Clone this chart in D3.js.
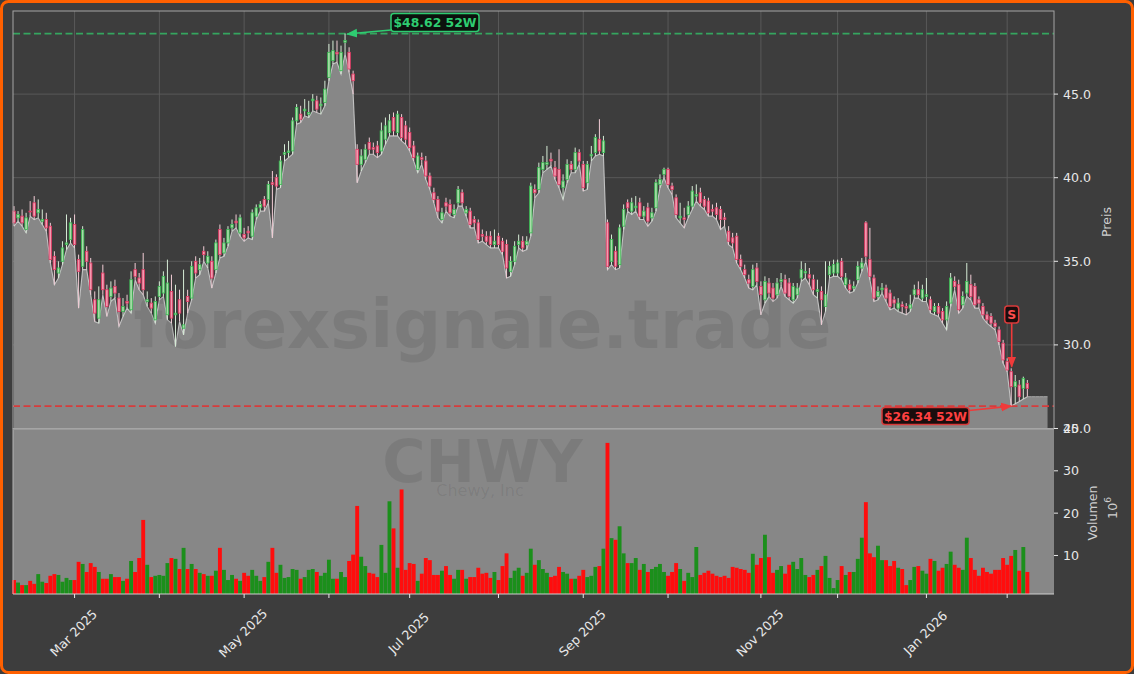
<!DOCTYPE html>
<html><head><meta charset="utf-8">
<script src="https://cdn.jsdelivr.net/npm/d3@7"></script>
<style>
html,body{margin:0;padding:0;background:#3d3d3d;}
svg{display:block;font-family:"DejaVu Sans",sans-serif;}
</style></head><body>
<svg id="chart" width="1134" height="674"></svg>
<script>
// ---------------- data ----------------
const startDate = "2025-02-07";
const holidays = ["2025-02-17","2025-04-18","2025-05-26","2025-06-19","2025-07-04","2025-09-01","2025-11-27","2025-12-25","2026-01-01","2026-01-19"];
const opens = [38.0,37.6,37.7,36.9,38.0,38.5,37.9,37.4,37.5,37.1,
35.3,34.3,35.0,36.0,36.3,37.2,35.1,34.7,35.6,34.9,
32.7,31.6,34.3,33.3,32.9,33.5,32.8,32.0,32.6,32.1,
34.5,34.0,34.5,32.6,32.5,31.5,32.9,33.1,31.8,33.2,
31.8,32.7,31.0,32.9,32.8,35.0,34.5,35.6,34.9,35.0,
34.5,36.9,35.5,36.1,37.0,37.4,36.7,36.6,36.8,36.5,
37.7,38.2,38.7,38.7,39.7,40.0,39.6,41.4,41.5,41.6,
43.4,43.8,44.0,43.8,44.6,44.6,44.3,44.5,46.0,47.0,
47.5,46.4,48.1,47.5,46.2,41.7,40.8,41.1,42.1,41.8,
41.9,41.6,42.3,42.7,43.6,42.7,43.6,43.1,42.7,41.9,
40.5,41.2,41.0,40.1,39.1,38.7,37.5,38.5,38.4,37.8,
38.5,39.1,37.9,38.0,37.5,37.3,36.6,36.5,36.5,36.0,
36.5,36.2,36.0,34.4,35.0,36.0,36.2,36.0,36.7,39.3,
39.3,40.5,40.8,41.1,40.6,40.5,39.4,39.9,40.8,40.5,
41.5,40.8,39.7,41.3,41.5,42.3,41.5,37.3,35.0,35.6,
34.8,37.1,38.5,38.0,38.2,38.5,37.7,38.2,37.6,38.2,
39.6,40.2,40.5,39.5,38.8,37.6,37.6,37.8,38.3,38.9,
39.1,38.7,38.6,38.1,38.2,38.1,37.6,36.8,36.4,36.5,
35.1,34.5,33.9,33.5,34.6,33.5,32.7,33.7,33.4,33.0,
33.8,33.9,33.7,32.7,33.0,34.0,34.3,34.2,33.9,33.2,
33.2,32.3,34.2,34.3,34.3,35.0,33.6,33.6,33.4,33.9,
34.6,37.3,35.1,34.0,32.9,33.3,33.4,33.1,32.7,32.2,
32.4,32.3,32.2,33.0,33.3,32.8,32.9,32.7,32.0,32.3,
32.0,31.5,32.5,33.8,33.6,32.4,33.1,33.6,33.5,32.7,
32.3,31.8,31.7,31.3,30.9,30.1,29.0,28.4,27.5,27.6,
27.4,27.7];
const highs = [38.3,38.0,38.1,37.9,38.6,38.9,38.7,38.1,37.9,37.3,
35.6,35.0,36.2,37.8,37.6,37.8,35.4,37.1,35.9,35.2,
33.2,33.5,34.8,33.6,33.8,33.9,33.1,32.8,33.0,34.4,
34.9,34.3,35.5,33.2,32.8,32.9,33.8,34.4,35.1,34.2,
33.6,33.3,34.5,33.3,35.0,35.3,35.2,35.9,35.6,35.3,
36.3,37.2,36.4,37.1,37.5,37.8,37.8,37.0,37.1,38.1,
38.4,38.6,38.9,39.8,40.4,40.2,41.3,42.0,42.2,43.6,
44.4,44.3,44.7,44.6,45.0,44.9,44.8,45.8,48.0,48.2,
48.2,47.9,48.62,47.8,46.4,42.0,41.7,42.0,42.4,42.1,
42.2,43.3,43.6,43.8,43.9,44.0,43.8,43.4,43.0,42.2,
41.5,41.5,41.3,40.3,39.4,38.9,38.2,38.8,38.7,38.4,
39.5,39.3,38.3,38.2,37.7,37.5,36.9,36.8,36.8,36.9,
36.7,36.4,36.3,35.3,36.2,36.6,36.5,36.5,39.7,39.6,
40.9,41.3,41.9,41.5,41.0,41.7,40.2,41.1,41.0,41.8,
41.7,41.0,41.0,41.9,42.6,43.5,42.5,37.5,36.6,35.9,
37.2,38.4,38.7,38.8,38.9,38.8,38.3,38.5,38.2,39.9,
40.2,40.6,40.6,39.7,39.0,38.5,38.2,38.6,39.5,39.6,
39.4,38.9,38.8,38.4,38.5,38.3,37.9,37.1,36.7,36.7,
35.4,34.8,34.2,34.8,34.9,33.8,34.1,34.0,33.7,34.0,
34.3,34.2,34.0,33.7,33.7,35.0,34.9,34.6,34.2,33.9,
33.5,35.0,35.0,35.1,35.1,35.2,34.3,33.9,33.8,35.0,
35.2,37.4,37.0,34.2,33.5,33.7,33.6,33.3,32.9,32.8,
32.6,32.5,33.0,33.6,33.8,33.6,34.0,32.9,32.5,32.5,
32.2,32.6,34.3,34.1,33.9,33.2,34.9,34.2,33.7,32.9,
32.5,32.0,31.9,31.5,31.1,30.3,29.2,28.6,28.2,27.9,
28.1,27.9];
const lows = [37.1,37.4,37.1,36.7,37.7,37.5,37.6,37.2,36.8,34.9,
33.6,34.0,34.8,35.7,36.1,35.8,32.2,34.5,34.5,33.0,
31.4,31.3,33.0,31.7,32.6,32.8,31.1,31.7,32.2,31.9,
33.9,33.3,33.0,32.3,31.9,31.3,32.7,32.9,31.5,31.3,
29.9,31.4,30.6,31.9,32.7,34.0,34.2,35.0,34.6,33.4,
34.3,35.2,35.3,35.9,36.8,37.0,36.5,36.2,36.4,36.3,
37.5,38.0,38.0,38.5,36.4,39.3,39.4,41.0,41.2,41.4,
43.2,43.3,43.7,43.6,44.0,43.9,43.8,44.3,45.8,46.8,
46.9,46.2,47.4,46.3,45.0,39.7,40.4,40.9,41.4,41.4,
41.2,41.4,42.0,42.5,42.5,42.5,42.2,42.0,41.6,41.0,
40.3,40.8,39.9,39.3,38.5,37.6,37.3,38.0,37.7,37.6,
38.3,38.3,37.7,37.0,37.0,36.1,36.2,36.0,35.8,35.8,
35.8,35.4,34.0,34.1,34.8,35.8,35.6,35.7,36.5,38.8,
39.1,40.3,40.5,40.7,39.9,39.4,38.7,39.7,40.3,40.3,
40.8,39.2,39.3,41.0,41.3,41.4,41.3,34.5,34.8,34.5,
34.6,36.9,38.0,37.8,38.0,37.5,37.5,37.1,37.4,38.0,
39.4,40.0,39.4,39.0,37.6,37.3,37.0,37.6,38.1,38.6,
38.3,38.1,37.7,37.7,37.5,36.9,37.1,36.0,35.8,34.9,
34.5,34.0,33.4,33.3,33.6,31.8,32.5,32.9,32.6,32.8,
33.5,32.9,32.7,32.5,32.8,33.8,34.0,33.6,33.0,32.8,
31.2,32.0,34.0,34.1,34.1,33.9,33.4,33.1,33.2,33.7,
34.4,35.0,33.9,32.6,32.7,33.1,32.6,32.1,32.2,32.0,
31.9,31.8,32.0,32.8,32.8,32.6,32.6,31.9,31.8,31.7,
31.3,30.9,32.3,33.3,31.9,32.2,32.9,32.7,32.2,32.2,
31.6,31.3,31.1,30.9,30.0,28.9,28.4,26.34,26.48,26.62,
26.76,26.9];
const closes = [37.3,37.8,37.3,37.6,37.95,37.7,38.1,37.5,37.0,35.1,
34.5,34.6,35.8,36.1,37.3,36.0,34.4,36.9,35.0,33.3,
31.9,32.7,33.3,32.3,33.4,33.1,32.0,32.3,32.5,33.9,
34.1,33.7,33.3,32.7,32.2,32.6,33.5,34.1,33.7,31.6,
31.9,31.9,31.2,32.6,34.7,34.3,34.8,35.4,35.3,34.0,
36.1,35.4,36.1,36.9,37.2,37.3,37.6,36.4,36.7,37.9,
38.2,38.4,38.3,39.6,39.6,39.5,41.0,41.5,41.6,43.4,
44.2,43.5,44.1,43.9,44.7,44.1,44.4,45.3,47.5,47.6,
47.4,47.5,48.2,46.5,45.8,40.8,41.3,41.7,41.7,41.7,
41.5,42.8,43.1,43.4,42.8,43.8,42.4,42.3,41.8,41.2,
41.3,41.1,40.1,39.5,38.7,38.0,37.9,38.3,37.9,38.1,
39.3,38.5,38.1,37.2,37.3,36.3,36.5,36.2,36.0,36.2,
36.0,35.6,34.6,35.0,35.9,36.2,35.8,36.2,39.5,39.1,
40.6,40.9,40.9,41.0,40.1,39.6,39.8,40.8,40.5,41.5,
41.0,39.4,40.8,41.4,42.4,41.6,42.2,34.7,36.3,34.7,
37.0,38.1,38.2,38.5,38.3,37.7,38.0,37.4,37.9,39.7,
39.9,40.5,39.6,39.3,37.8,37.7,37.5,38.3,39.2,39.0,
38.5,38.3,37.9,38.0,37.8,37.5,37.5,36.2,36.1,35.1,
34.7,34.2,33.7,34.5,33.8,33.0,33.8,33.1,32.8,33.7,
33.9,33.1,32.9,33.5,33.4,34.5,34.4,34.0,33.3,33.3,
32.7,33.0,34.7,34.8,34.9,34.1,34.0,33.3,33.5,34.7,
34.9,35.3,34.1,32.8,33.2,33.4,32.8,32.3,32.5,32.5,
32.3,32.2,32.4,33.3,33.0,33.3,33.0,32.1,32.3,31.9,
31.5,32.3,34.0,33.5,32.1,32.9,33.8,32.9,32.4,32.5,
31.8,31.5,31.3,31.1,30.2,29.1,28.5,27.5,27.8,26.9,
28.0,27.4];
const volumes = [4.2,3.6,3.0,3.0,4.0,3.3,5.6,3.8,3.5,5.2,
5.6,5.4,3.8,4.7,4.2,4.2,8.5,8.0,6.1,8.2,
7.3,6.1,4.5,4.5,5.6,4.9,4.9,4.0,4.5,8.7,
6.1,9.4,18.4,7.8,4.9,5.2,5.4,5.2,8.2,9.4,
9.2,6.8,11.8,6.8,8.0,6.8,5.9,5.6,5.2,5.2,
6.4,11.8,6.6,4.2,5.4,4.5,4.0,5.9,5.2,6.6,
5.2,4.0,4.9,8.5,11.8,5.9,7.8,4.7,4.9,6.8,
6.6,4.5,4.9,6.6,6.8,6.1,5.2,5.9,9.0,4.5,
4.5,6.1,4.9,8.7,10.2,21.7,9.7,7.5,5.9,5.7,
4.9,12.5,5.9,22.8,16.4,7.1,25.6,6.6,8.2,8.0,
4.0,5.7,9.4,8.9,5.4,5.4,6.4,7.5,5.4,4.5,
6.6,6.6,4.5,4.9,4.9,7.1,5.7,5.9,4.7,6.1,
4.2,7.5,10.5,4.7,6.4,7.1,5.2,5.9,11.6,7.8,
8.9,6.8,5.9,4.9,5.2,7.3,6.1,5.7,4.5,4.5,
5.2,6.6,4.9,5.2,7.3,7.5,11.6,36.6,14.1,13.7,
16.9,10.5,8.2,8.2,9.4,6.6,8.0,6.1,6.8,7.3,
8.0,6.1,5.2,6.1,8.2,6.8,4.0,5.9,4.9,12.0,
5.4,5.9,6.4,5.7,5.2,4.9,5.2,4.7,7.3,7.1,
6.8,6.6,5.9,10.4,7.8,9.4,14.9,9.6,5.9,6.6,
7.5,5.7,7.8,8.5,6.8,9.4,5.4,4.9,5.4,6.6,
7.5,9.9,4.7,2.3,4.2,7.5,5.4,6.1,6.1,9.2,
14.2,22.6,10.5,9.6,12.3,8.9,8.9,7.5,8.7,7.1,
6.8,3.0,4.2,7.3,7.5,6.4,5.7,9.2,8.7,6.4,
7.1,8.0,10.9,7.8,7.1,6.6,14.2,9.4,6.6,5.2,
7.1,6.1,5.7,6.6,6.6,9.4,7.8,9.9,11.3,6.4,
12.0,6.1];
const padLows = [26.9,26.9,26.9,26.9,26.9];
const priceTicks = [25,30,35,40,45];
const volTicks = [10,20,30,40];
const high52 = {value:48.62, label:"$48.62 52W"};
const low52 = {value:26.34, label:"$26.34 52W"};
const signal = {idx:247, price:28.7, label:"S"};
const watermark = "forexsignale.trade";
const ticker = "CHWY";
const company = "Chewy, Inc";

// ---------------- dates ----------------
const parse = d3.timeParse("%Y-%m-%d"), fmtKey = d3.timeFormat("%Y-%m-%d");
const hol = new Set(holidays);
const dates = [];
for (let d = parse(startDate); dates.length < opens.length; d = d3.timeDay.offset(d,1)) {
  const wd = d.getDay();
  if (wd === 0 || wd === 6 || hol.has(fmtKey(d))) continue;
  dates.push(d);
}
const data = opens.map((o,i)=>({i, date:dates[i], o, h:highs[i], l:lows[i], c:closes[i], v:volumes[i], up: closes[i] >= o}));

// ---------------- layout ----------------
const W=1134, H=674;
const L=13, R=1054, PT=11, PB=428.5, VB=594;
const svg = d3.select("#chart");
const x = d3.scaleLinear().domain([-0.25, 257.6]).range([L, R]);
const y = d3.scaleLinear().domain([25, 49.97]).range([PB, PT]);
const yv = d3.scaleLinear().domain([0.9, 40]).range([VB, PB]);
const step = x(1) - x(0);

svg.append("rect").attr("width",W).attr("height",H).attr("fill","#3d3d3d");

// grid (price panel)
const monthTicks = data.filter((d,i)=> i>0 && d.date.getMonth() !== data[i-1].date.getMonth());
const g = svg.append("g");
g.selectAll(".hg").data(priceTicks.filter(t=>t>25)).join("line")
  .attr("x1",L).attr("x2",R).attr("y1",d=>y(d)).attr("y2",d=>y(d))
  .attr("stroke","#5c5c5c").attr("stroke-width",0.9);
g.selectAll(".vg").data(monthTicks).join("line")
  .attr("x1",d=>x(d.i)).attr("x2",d=>x(d.i)).attr("y1",PT).attr("y2",PB)
  .attr("stroke","#5c5c5c").attr("stroke-width",0.9);

// volume panel background
svg.append("rect").attr("x",L).attr("y",PB).attr("width",R-L).attr("height",VB-PB).attr("fill","#878787");

// area under lows
const areaVals = lows.concat(padLows);
const area = d3.area().x((d,i)=>x(i)).y0(PB).y1(d=>y(d));
svg.append("path").datum(areaVals).attr("d",area).attr("fill","#878787");
svg.append("path").datum(lows).attr("d", d3.line().x((d,i)=>x(i)).y(d=>y(d)))
  .attr("fill","none").attr("stroke","#d2d2d2").attr("stroke-width",1.1).attr("stroke-opacity",0.85);
svg.append("path").datum(areaVals.slice(lows.length-1)).attr("d", d3.line().x((d,i)=>x(i+lows.length-1)).y(d=>y(d)))
  .attr("fill","none").attr("stroke","#a8a8a8").attr("stroke-width",1);

// watermarks
svg.append("text").attr("x",482.5).attr("y",348).attr("text-anchor","middle")
  .attr("font-size",67).attr("font-weight","bold").attr("fill","#000").attr("fill-opacity",0.085)
  .text(watermark);
svg.append("text").attr("x",482.5).attr("y",482).attr("text-anchor","middle")
  .attr("font-size",59).attr("font-weight","bold").attr("fill","#000").attr("fill-opacity",0.085)
  .text(ticker);
svg.append("text").attr("x",480).attr("y",496).attr("text-anchor","middle")
  .attr("font-size",16).attr("fill","#000").attr("fill-opacity",0.08)
  .text(company);

// 52W lines
svg.append("line").attr("x1",L).attr("x2",R).attr("y1",y(high52.value)).attr("y2",y(high52.value))
  .attr("stroke","#35a55f").attr("stroke-width",1.8).attr("stroke-dasharray","7,3.5");
svg.append("line").attr("x1",L).attr("x2",R).attr("y1",y(low52.value)).attr("y2",y(low52.value))
  .attr("stroke","#d63c3c").attr("stroke-width",1.8).attr("stroke-dasharray","7,3.5");

// candles
const cg = svg.append("g");
cg.selectAll(".wick").data(data).join("line")
  .attr("x1",d=>x(d.i)).attr("x2",d=>x(d.i)).attr("y1",d=>y(d.h)).attr("y2",d=>y(d.l))
  .attr("stroke",d=>d.up?"#d6ecd6":"#f2cdd6").attr("stroke-width",1);
const bw = step*0.62;
cg.selectAll(".body").data(data).join("rect")
  .attr("x",d=>x(d.i)-bw/2).attr("width",bw)
  .attr("y",d=>y(Math.max(d.o,d.c)))
  .attr("height",d=>Math.max(0.8, Math.abs(y(d.o)-y(d.c))))
  .attr("fill",d=>d.up?"#a9dca9":"#f29ab0")
  .attr("stroke",d=>d.up?"#35b84f":"#df3660").attr("stroke-width",0.8);

// volume bars
const vw = step*0.96;
svg.append("g").selectAll("rect").data(data).join("rect")
  .attr("x",d=>x(d.i)-vw/2).attr("width",vw)
  .attr("y",d=>yv(d.v)).attr("height",d=>VB-yv(d.v))
  .attr("fill",d=>d.up?"#1b8f1b":"#ff0d0d");

// spines
svg.append("rect").attr("x",L).attr("y",PT).attr("width",R-L).attr("height",PB-PT)
  .attr("fill","none").attr("stroke","#a5a5a5").attr("stroke-width",1);
svg.append("line").attr("x1",L).attr("x2",L).attr("y1",PB).attr("y2",VB).attr("stroke","#b5b5b5");
svg.append("line").attr("x1",L).attr("x2",R).attr("y1",VB).attr("y2",VB).attr("stroke","#cfcfcf");
svg.append("line").attr("x1",L).attr("x2",R).attr("y1",PB+1).attr("y2",PB+1).attr("stroke","#9a9a9a");

// price axis (right)
const ax = svg.append("g").attr("fill","#e8e8e8").attr("font-size",12.6);
priceTicks.forEach(t=>{
  ax.append("line").attr("x1",R).attr("x2",R+4).attr("y1",y(t)).attr("y2",y(t)).attr("stroke","#e8e8e8");
  ax.append("text").attr("x",R+9).attr("y",y(t)).attr("dy","0.36em").text(d3.format(".1f")(t));
});
volTicks.forEach(t=>{
  ax.append("line").attr("x1",R).attr("x2",R+4).attr("y1",yv(t)).attr("y2",yv(t)).attr("stroke","#e8e8e8");
  ax.append("text").attr("x",R+9).attr("y",yv(t)).attr("dy","0.36em").text(t);
});
svg.append("text").attr("transform","translate(1111,222) rotate(-90)").attr("text-anchor","middle")
  .attr("font-size",12.6).attr("fill","#cfcfcf").text("Preis");
svg.append("text").attr("transform","translate(1097,513) rotate(-90)").attr("text-anchor","middle")
  .attr("font-size",12.6).attr("fill","#cfcfcf").text("Volumen");
const e6 = svg.append("text").attr("transform","translate(1117,508) rotate(-90)").attr("text-anchor","middle")
  .attr("font-size",12.6).attr("fill","#cfcfcf");
e6.append("tspan").text("10");
e6.append("tspan").attr("font-size",9).attr("dy",-6).text("6");

// x axis ticks
const fmt = d3.timeFormat("%b %Y");
monthTicks.forEach(d=>{
  svg.append("line").attr("x1",x(d.i)).attr("x2",x(d.i)).attr("y1",VB).attr("y2",VB+4).attr("stroke","#e8e8e8");
  if (d.date.getMonth() % 2 === 0) {
    svg.append("text").attr("transform",`translate(${x(d.i)-1},633) rotate(-45)`)
      .attr("text-anchor","middle").attr("dominant-baseline","central")
      .attr("font-size",12.6).attr("fill","#e8e8e8").text(fmt(d.date));
  }
});

// annotations
const defs = svg.append("defs");
function marker(id,color){
  defs.append("marker").attr("id",id).attr("viewBox","0 0 10 10").attr("refX",9).attr("refY",5)
    .attr("markerWidth",7).attr("markerHeight",7).attr("orient","auto-start-reverse")
    .append("path").attr("d","M0,1 L10,5 L0,9 z").attr("fill",color);
}
marker("ag","#2ecc71"); marker("ar","#f03a3a");

const hiIdx = d3.maxIndex(highs), loIdx = d3.minIndex(lows);
// high label
svg.append("line").attr("x1",391).attr("y1",30).attr("x2",x(hiIdx)+2).attr("y2",y(high52.value)+0.5)
  .attr("stroke","#2ecc71").attr("stroke-width",1.6).attr("marker-end","url(#ag)");
svg.append("rect").attr("x",391).attr("y",13.5).attr("width",88).attr("height",18).attr("rx",3)
  .attr("fill","#0c110d").attr("stroke","#2ecc71").attr("stroke-width",1.5);
svg.append("text").attr("x",435).attr("y",22.8).attr("text-anchor","middle").attr("dominant-baseline","central")
  .attr("font-size",12.4).attr("font-weight","bold").attr("fill","#2ecc71").text(high52.label);
// low label
svg.append("line").attr("x1",969).attr("y1",410.5).attr("x2",x(loIdx)).attr("y2",y(low52.value))
  .attr("stroke","#f03a3a").attr("stroke-width",1.6).attr("marker-end","url(#ar)");
svg.append("rect").attr("x",882).attr("y",407.5).attr("width",87).attr("height",17).attr("rx",3)
  .attr("fill","#1a0d0d").attr("stroke","#d83a3a").attr("stroke-width",1.5);
svg.append("text").attr("x",925.5).attr("y",416.2).attr("text-anchor","middle").attr("dominant-baseline","central")
  .attr("font-size",12.4).attr("font-weight","bold").attr("fill","#ff4040").text(low52.label);
// signal
const sx = x(signal.idx)+0.5;
svg.append("line").attr("x1",sx).attr("y1",323).attr("x2",sx).attr("y2",y(signal.price))
  .attr("stroke","#f03a3a").attr("stroke-width",1.6).attr("marker-end","url(#ar)");
svg.append("rect").attr("x",sx-7).attr("y",306).attr("width",14).attr("height",17).attr("rx",3)
  .attr("fill","#1a0d0d").attr("stroke","#d83a3a").attr("stroke-width",1.5);
svg.append("text").attr("x",sx).attr("y",314.8).attr("text-anchor","middle").attr("dominant-baseline","central")
  .attr("font-size",12.4).attr("font-weight","bold").attr("fill","#ff4d4d").text(signal.label);

// outer orange frame
svg.append("rect").attr("x",1.5).attr("y",1.5).attr("width",W-3).attr("height",H-3).attr("rx",7)
  .attr("fill","none").attr("stroke","#ff6000").attr("stroke-width",3);
</script>
</body></html>
